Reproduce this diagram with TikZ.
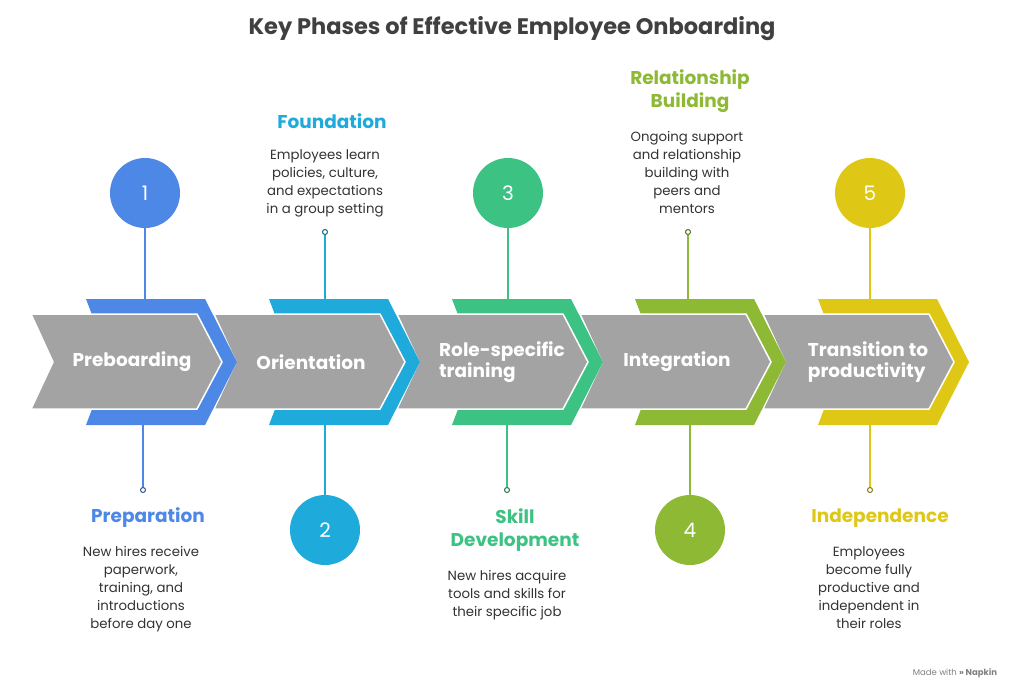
\documentclass[tikz,border=0pt]{standalone}
\usepackage{fontspec}
\setmainfont{Poppins}
\begin{document}
\begin{tikzpicture}[x=1pt,y=-1pt,
  gray/.style={fill=black!36,draw=white,line width=1.5pt,line join=miter},
  lab/.style={text=white,font=\bfseries\fontsize{18.5}{21}\selectfont,align=left},
  num/.style={circle,minimum size=70pt,inner sep=0pt,text=white,font=\fontsize{20}{20}\selectfont},
  dot/.style={circle,draw=#1!60!black,fill=white,line width=1pt,minimum size=5pt,inner sep=0pt},
  ttl/.style={font=\bfseries\fontsize{18.5}{23}\selectfont,text=#1,align=center},
  body/.style={font=\fontsize{13.3}{18}\selectfont,text=black!80,align=center},
  con/.style={draw=#1,line width=1.6pt}]
\definecolor{c1}{HTML}{4E88E6}\definecolor{c2}{HTML}{1EAADB}\definecolor{c3}{HTML}{3CC383}
\definecolor{c4}{HTML}{8DB935}\definecolor{c5}{HTML}{DFC815}
\useasboundingbox[fill=white] (0,0) rectangle (1025,690);
\node[font=\bfseries\fontsize{22.5}{26}\selectfont,text=black!75] (title) at (512,29) {Key Phases of Effective Employee Onboarding};
\foreach \i/\c in {5/c5,4/c4,3/c3,2/c2,1/c1}{
  \pgfmathsetmacro\o{183*(\i-1)}
  \fill[\c] (86+\o,299)--(205+\o,299)--(237+\o,362)--(205+\o,425)--(86+\o,425)--(110+\o,362)--cycle;
  \draw[gray] (31+\o,314)--(197+\o,314)--(222+\o,362)--(197+\o,409)--(31+\o,409)--(53+\o,362)--cycle;
}
\node[lab] (l1) at (132,362) {Preboarding};
\node[lab] (l2) at (311,362) {Orientation};
\node[lab] (l3) at (502,362) {Role-specific\\training};
\node[lab] (l4) at (677,362) {Integration};
\node[lab] (l5) at (868,362) {Transition to\\productivity};
\node[num,fill=c1] (n1) at (145,193) {1};
\node[num,fill=c3] (n3) at (508,193) {3};
\node[num,fill=c5] (n5) at (870,193) {5};
\node[num,fill=c2] (n2) at (325,530) {2};
\node[num,fill=c4] (n4) at (690,530) {4};
\coordinate (t1) at (145,299); \coordinate (t3) at (508,299); \coordinate (t5) at (870,299);
\coordinate (b2) at (325,425); \coordinate (b4) at (690,425);
\draw[con=c1] (n1)--(t1); \draw[con=c3] (n3)--(t3); \draw[con=c5] (n5)--(t5);
\draw[con=c2] (b2)--(n2); \draw[con=c4] (b4)--(n4);
\node[dot=c1] (d1) at (143,490) {}; \coordinate (e1) at (143,425);
\node[dot=c3] (d3) at (507,490) {}; \coordinate (e3) at (507,425);
\node[dot=c5] (d5) at (870,490) {}; \coordinate (e5) at (870,425);
\node[dot=c2] (d2) at (325,232) {}; \coordinate (e2) at (325,299);
\node[dot=c4] (d4) at (688,232) {}; \coordinate (e4) at (688,299);
\draw[con=c1] (e1)--(d1); \draw[con=c3] (e3)--(d3); \draw[con=c5] (e5)--(d5);
\draw[con=c2] (d2)--(e2); \draw[con=c4] (d4)--(e4);
\node[ttl=c1] (p1) at (148,518) {Preparation};
\node[body,anchor=north] (q1) at (141,543) {New hires receive\\paperwork,\\training, and\\introductions\\before day one};
\node[ttl=c2] (p2) at (332,121) {Foundation};
\node[body,anchor=north] (q2) at (325,146) {Employees learn\\policies, culture,\\and expectations\\in a group setting};
\node[ttl=c3] (p3) at (515,530) {Skill\\Development};
\node[body,anchor=north] (q3) at (507,567) {New hires acquire\\tools and skills for\\their specific job};
\node[ttl=c4] (p4) at (690,91) {Relationship\\Building};
\node[body,anchor=north] (q4) at (687,128) {Ongoing support\\and relationship\\building with\\peers and\\mentors};
\node[ttl=c5] (p5) at (880,518) {Independence};
\node[body,anchor=north] (q5) at (869,543) {Employees\\become fully\\productive and\\independent in\\their roles};
\node[font=\fontsize{8.5}{10}\selectfont,text=black!50] (mw) at (955,673) {Made with \textbf{» Napkin}};
\end{tikzpicture}
\end{document}
